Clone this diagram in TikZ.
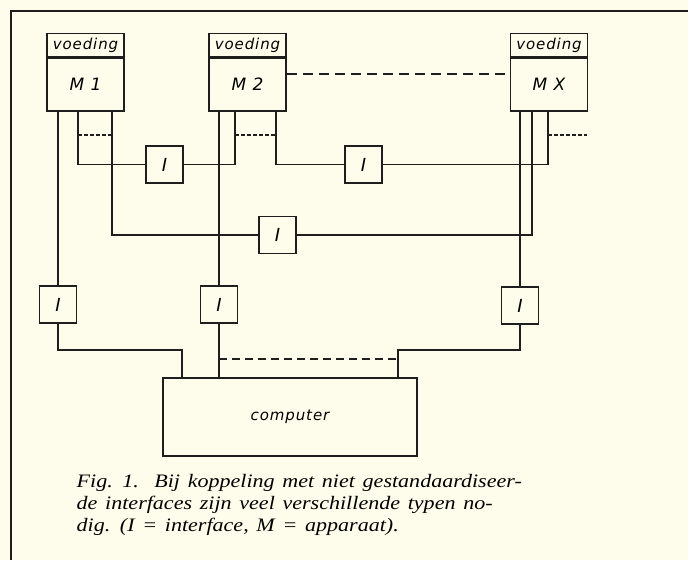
\documentclass[tikz,border=0pt]{standalone}
\usepackage{fontspec}
\setmainfont{Liberation Serif}
\newfontfamily\capfont[FakeStretch=1.16, WordSpace=1.4]{Liberation Serif}
\newfontfamily\lblfont[LetterSpace=6]{DejaVu Sans}
\usetikzlibrary{positioning}
\definecolor{paper}{RGB}{254,253,236}
\definecolor{ink}{RGB}{30,30,30}
\tikzset{
  mb/.style   = {draw=ink, minimum width=77pt, minimum height=53pt, inner sep=0pt,
                 font=\lblfont\itshape\fontsize{17}{17}\selectfont},
  vb/.style   = {draw=ink, minimum width=77pt, minimum height=23pt, inner sep=0pt,
                 font=\lblfont\itshape\fontsize{15}{15}\selectfont},
  ib/.style   = {draw=ink, minimum size=37pt, inner sep=0pt,
                 font=\lblfont\itshape\fontsize{18}{18}\selectfont},
  wire/.style = {draw=ink, line width=1.4pt},
  dsh/.style  = {wire, dash pattern=on 8pt off 5pt},
  dot/.style  = {wire, dash pattern=on 3.5pt off 2.5pt},
}

\begin{document}
\begin{tikzpicture}[x=1pt, y=-1pt, line width=1.4pt]

  \fill[paper] (0,0) rectangle (688,560);
  \useasboundingbox (0,0) rectangle (688,560);
  \draw[ink, line width=2.2pt] (11,560) -- (11,11) -- (688,11);

  % ===== apparaten ======================================================
  \node[mb]                  (m1) at ( 85.5, 84.5) {M 1};
  \node[vb, above=0pt of m1] (v1) {voeding};
  \node[mb]                  (m2) at (247.5, 84.5) {M 2};
  \node[vb, above=0pt of m2] (v2) {voeding};
  \node[mb]                  (mx) at (549.0, 84.5) {M X};
  \node[vb, above=0pt of mx] (vx) {voeding};

  \draw[dsh, dash pattern=on 10pt off 6pt] (m2.east |- 0,74) -- (mx.west |- 0,74);

  % ===== interfaces =====================================================
  \node[ib] (i12) at (164.5,164.5) {I};
  \node[ib] (i2x) at (363.5,164.5) {I};
  \node[ib] (i1x) at (277.5,235.0) {I};
  \node[ib] (la)  at ( 58.0,304.5) {I};
  \node[ib] (lb)  at (219.0,304.5) {I};
  \node[ib] (lc)  at (520.0,305.5) {I};

  \node[draw=ink, minimum width=254pt, minimum height=78pt,
        font=\lblfont\itshape\fontsize{15}{15}\selectfont]
        (comp) at (290,417) {computer};

  % ===== koppelingen tussen de apparaten ================================
  \draw[wire] (78,111) -- (78,164.5) -- (i12.west);
  \draw[dot]  (78,135) -- (112,135);
  \draw[wire] (i12.east) -- (235,164.5) -- (235,111);
  \draw[dot]  (235,135) -- (276,135);

  \draw[wire] (276,111) -- (276,164.5) -- (i2x.west);
  \draw[wire] (i2x.east) -- (548,164.5) -- (548,111);
  \draw[dot]  (548,135) -- (587,135);

  \draw[wire] (112,111) -- (112,235) -- (i1x.west);
  \draw[wire] (i1x.east) -- (532,235) -- (532,111);

  % ===== naar de computer ===============================================
  \draw[wire] (m1.south -| la) -- (la.north);
  \draw[wire] (la.south) -- (58,350) -- (182,350) -- (182,378);

  \draw[wire] (m2.south -| lb) -- (lb.north);
  \draw[wire] (lb.south) -- (comp.north -| lb);

  \draw[wire] (mx.south -| lc) -- (lc.north);
  \draw[wire] (lc.south) -- (520,350) -- (398,350) -- (398,378);

  \draw[dsh] (219,359) -- (398,359);

  % ===== onderschrift ===================================================
  \node[anchor=north west, align=left, inner sep=0pt,
        font=\capfont\itshape\fontsize{19}{22}\selectfont] (cap) at (76,474)
    {Fig. 1.\ \ Bij koppeling met niet gestandaardiseer-\\
     de interfaces zijn veel verschillende typen no-\\
     dig. (I = interface, M = apparaat).};

\end{tikzpicture}
\end{document}
